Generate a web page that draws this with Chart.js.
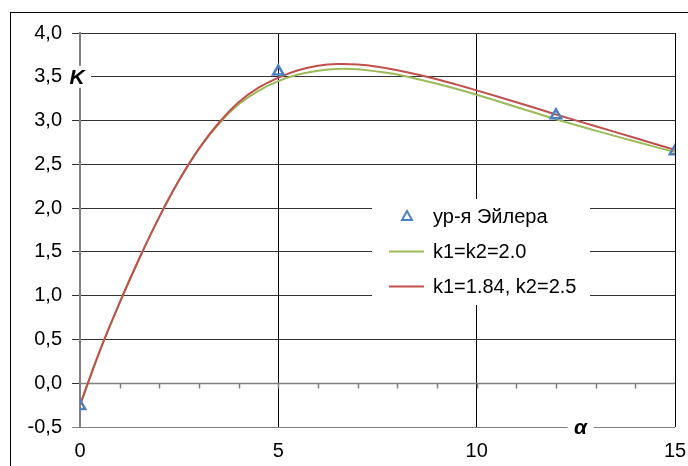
<!DOCTYPE html>
<html>
<head>
<meta charset="utf-8">
<script src="https://cdn.jsdelivr.net/npm/chart.js@4.4.1/dist/chart.umd.min.js"></script>
<style>
  html, body { margin: 0; padding: 0; background: #fff; }
  #wrap { position: relative; width: 688px; height: 466px; overflow: hidden; }
  #frame { position: absolute; left: 10px; top: 12px; width: 720px; height: 520px; border: 1.5px solid #000; }
  canvas { position: absolute; left: 0; top: 0; }
</style>
</head>
<body>
<div id="wrap">
  <div id="frame"></div>
  <canvas id="chart" width="688" height="466"></canvas>
</div>
<script>
// alpha values along the curves
const alpha = [0, 0.5, 1, 1.5, 2, 2.5, 3, 3.5, 4, 4.5, 5, 5.5, 6, 6.5, 7, 7.5, 8, 8.5, 9, 9.5, 10, 11, 12, 13, 14, 15];
// k1=k2=2.0
const kGreen = [-0.25, 0.37, 0.92, 1.43, 1.90, 2.32, 2.68, 2.96, 3.185, 3.34, 3.45, 3.525, 3.57, 3.59, 3.585, 3.56, 3.525, 3.475, 3.42, 3.36, 3.295, 3.155, 3.015, 2.885, 2.76, 2.64];
// k1=1.84, k2=2.5
const kRed = [-0.25, 0.37, 0.92, 1.43, 1.90, 2.32, 2.68, 2.975, 3.21, 3.375, 3.49, 3.575, 3.625, 3.645, 3.64, 3.615, 3.575, 3.527, 3.472, 3.41, 3.345, 3.21, 3.07, 2.935, 2.80, 2.665];
// Euler equation points
const eulerAlpha = [0, 5, 12, 15];
const eulerK = [-0.26, 3.56, 3.06, 2.65];

const seriesNames = ["ур-я Эйлера", "k1=k2=2.0", "k1=1.84, k2=2.5"];
const colors = ["#4F81BD", "#9BBB59", "#C0504D"];

const toXY = (xs, ys) => xs.map((x, i) => ({ x: x, y: ys[i] }));
const FONT = "'Liberation Sans', Arial, sans-serif";

// axis line through y=0 with minor ticks at every integer
const zeroAxis = {
  id: "zeroAxis",
  beforeDatasetsDraw(chart) {
    const xs = chart.scales.x, ys = chart.scales.y, c = chart.ctx;
    const y0 = Math.round(ys.getPixelForValue(0)) + 0.5;
    c.save();
    c.strokeStyle = "#808080";
    c.lineWidth = 1.5;
    c.beginPath();
    c.moveTo(xs.getPixelForValue(0), y0);
    c.lineTo(xs.getPixelForValue(15), y0);
    for (let i = 1; i < 15; i++) {
      const px = Math.round(xs.getPixelForValue(i)) + 0.5;
      c.moveTo(px, y0);
      c.lineTo(px, y0 + 5);
    }
    c.stroke();
    c.restore();
  }
};

// axis titles and legend
const overlay = {
  id: "overlay",
  afterDraw(chart) {
    const xs = chart.scales.x, ys = chart.scales.y, c = chart.ctx;
    c.save();
    c.font = "italic bold 21px " + FONT;
    c.textAlign = "center";
    c.textBaseline = "middle";
    // K
    let kx = xs.getPixelForValue(0) - 3, ky = ys.getPixelForValue(3.5);
    c.fillStyle = "#fff";
    c.fillRect(kx - 12, ky - 11, 26, 22);
    c.fillStyle = "#000";
    c.fillText("K", kx, ky + 1);
    // alpha
    let ax = xs.getPixelForValue(12.62), ay = ys.getPixelForValue(-0.5);
    c.fillStyle = "#fff";
    c.fillRect(ax - 13, ay - 10, 26, 20);
    c.fillStyle = "#000";
    c.fillText("α", ax, ay + 1);

    // legend
    c.fillStyle = "#fff";
    c.fillRect(372, 199, 218, 106);
    c.font = "20px " + FONT;
    c.textAlign = "left";
    c.fillStyle = "#000";
    const rows = [216, 251, 286];
    // triangle marker
    c.strokeStyle = colors[0];
    c.lineWidth = 2;
    c.beginPath();
    c.moveTo(407, rows[0] - 5);
    c.lineTo(412, rows[0] + 4);
    c.lineTo(402, rows[0] + 4);
    c.closePath();
    c.stroke();
    for (let i = 1; i < 3; i++) {
      c.strokeStyle = colors[i];
      c.lineWidth = 2;
      c.beginPath();
      c.moveTo(389, rows[i] + 0.5);
      c.lineTo(424, rows[i] + 0.5);
      c.stroke();
    }
    for (let i = 0; i < 3; i++) c.fillText(seriesNames[i], 433, rows[i] + 1);
    c.restore();
  }
};

new Chart(document.getElementById("chart"), {
  type: "scatter",
  data: {
    datasets: [
      {
        label: seriesNames[0],
        data: toXY(eulerAlpha, eulerK),
        showLine: false,
        pointStyle: "triangle",
        pointRadius: 6,
        pointBorderWidth: 2.5,
        borderColor: colors[0],
        backgroundColor: "rgba(0,0,0,0)",
        order: 0
      },
      {
        label: seriesNames[1],
        data: toXY(alpha, kGreen),
        showLine: true,
        borderColor: colors[1],
        borderWidth: 2,
        pointRadius: 0,
        tension: 0.4,
        order: 2
      },
      {
        label: seriesNames[2],
        data: toXY(alpha, kRed),
        showLine: true,
        borderColor: colors[2],
        borderWidth: 2,
        pointRadius: 0,
        tension: 0.4,
        order: 1
      }
    ]
  },
  options: {
    responsive: false,
    devicePixelRatio: 1,
    animation: false,
    layout: { padding: { left: 10, right: 0, top: 33, bottom: 0 } },
    plugins: { legend: { display: false }, tooltip: { enabled: false } },
    scales: {
      x: {
        type: "linear",
        min: 0, max: 15,
        ticks: { stepSize: 5, color: "#000", font: { family: FONT, size: 20 }, padding: 12, maxRotation: 0 },
        grid: { color: "#000", drawTicks: false, lineWidth: 1 },
        border: { display: false },
        afterFit: s => { s.height = 39; s.paddingRight = 13; s.paddingLeft = 0; }
      },
      y: {
        min: -0.5, max: 4,
        ticks: {
          stepSize: 0.5,
          color: "#000",
          font: { family: FONT, size: 20 },
          padding: 10,
          callback: v => v.toFixed(1).replace(".", ",")
        },
        grid: {
          color: ctx => ctx.tick && ctx.tick.value === -0.5 ? "#808080" : "#333",
          tickLength: 8,
          lineWidth: 1
        },
        border: { color: "#808080", width: 2 },
        afterFit: s => { s.width = 70; }
      }
    }
  },
  plugins: [zeroAxis, overlay]
});
</script>
</body>
</html>
